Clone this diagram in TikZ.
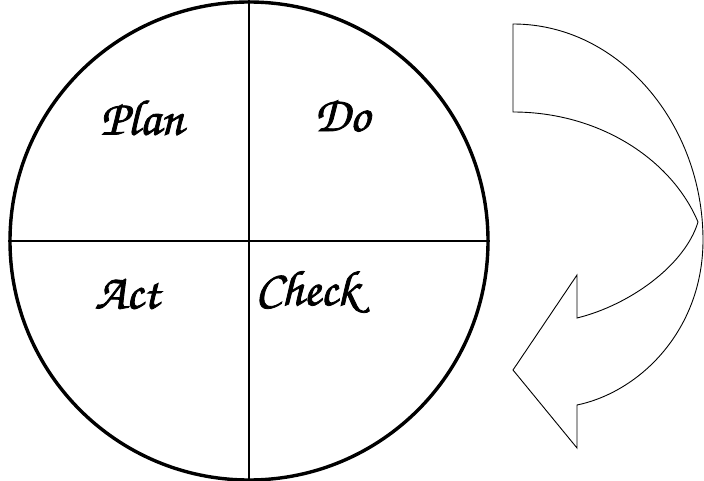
\documentclass[tikz,border=0pt]{standalone}
\usepackage{fontspec}
\newfontfamily\chorus[FakeBold=1.6]{TeX Gyre Chorus}
\begin{document}
\begin{tikzpicture}[x=1pt,y=-1pt]
  \useasboundingbox (0,0) rectangle (704,481);
  \tikzset{stage/.style={font=\chorus\fontsize{50}{50}\selectfont}}
  \node[draw, circle, line width=3.4pt, minimum size=478pt, inner sep=0pt] (cyc) at (249,241) {};
  \draw[line width=2.8pt] (cyc.north) -- (cyc.south);
  \draw[line width=2.8pt] (cyc.west) -- (cyc.east);
  \node[stage] (plan) at (142,118) {Plan};
  \node[stage] (do) at (342,116) {Do};
  \node[stage] (act) at (127,294) {Act};
  \node[stage] (check) at (307,292) {Check};
  % turning arrow on the right
  \draw[line width=0.9pt, line join=miter]
    (513,24) .. controls (620,24) and (703,125) .. (703,240)
    .. controls (703,330) and (640,392) .. (577,405)
    -- (577,448) -- (513,370) -- (577,275) -- (577,318)
    .. controls (630,305) and (685,265) .. (698,222)
    .. controls (672,160) and (600,112) .. (513,112) -- cycle;
\end{tikzpicture}
\end{document}
